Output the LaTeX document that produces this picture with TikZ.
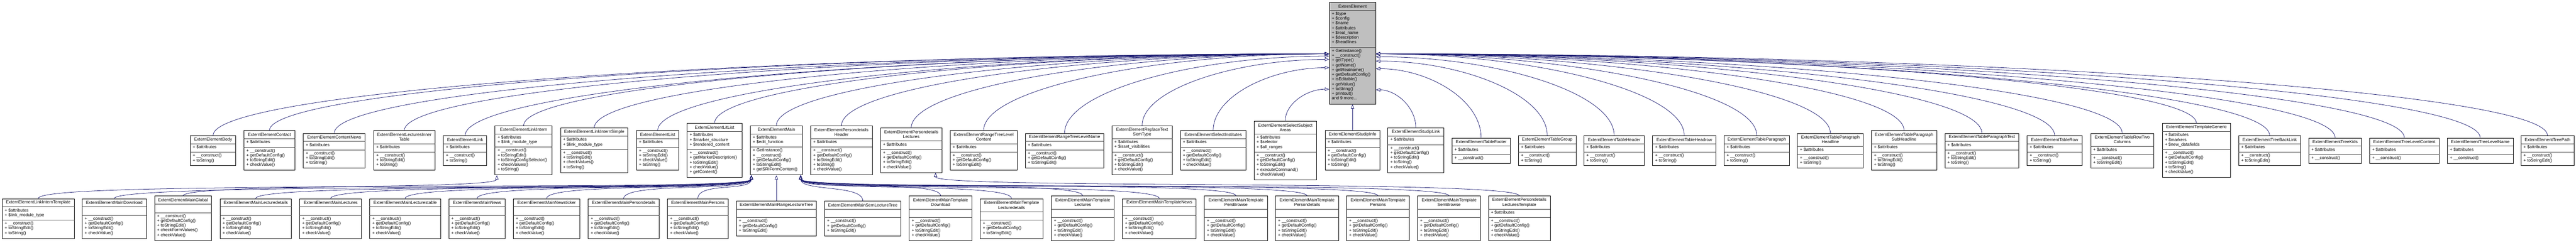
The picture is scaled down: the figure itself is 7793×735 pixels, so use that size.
\documentclass[tikz,border=0pt]{standalone}
\usepackage{fontspec}
\setmainfont{Liberation Sans}
\usetikzlibrary{arrows.meta,calc}
\definecolor{edge}{HTML}{191970}
\def\curfill{white}
\tikzset{
  cls/.style={draw=black,line width=1.3pt,fill=\curfill,inner sep=0pt},
  div/.style={line width=1.5pt,draw=black!75},
  ttl/.style={align=center,inner sep=0pt,font=\fontsize{13}{14.4}\selectfont},
  lst/.style={align=left,inner sep=0pt,anchor=north west,font=\fontsize{13}{14.4}\selectfont},
  inh/.style={draw=edge,line width=1.2pt,-{Triangle[open,length=13pt,width=10pt]}},
}
\newcommand\cls[9]{%
  \pgfmathsetmacro\tH{11+14.5*#4}%
  \pgfmathsetmacro\aH{11+14.5*max(#5,1)}%
  \pgfmathsetmacro\mH{11+14.5*#6}%
  \pgfmathsetmacro\hH{\tH+\aH+\mH}%
  \pgfmathsetmacro\tHh{\tH/2}%
  \pgfmathsetmacro\aY{\tH+4.5}%
  \pgfmathsetmacro\dY{\tH+\aH}%
  \pgfmathsetmacro\mY{\tH+\aH+4.5}%
  \node[cls,minimum width=#3pt,minimum height=\hH pt,anchor=north west] (#1) at (#2) {};
  \draw[div] ([yshift=-\tH pt]#1.north west) -- ([yshift=-\tH pt]#1.north east);
  \draw[div] ([yshift=-\dY pt]#1.north west) -- ([yshift=-\dY pt]#1.north east);
  \node[ttl] (#1-t) at ([yshift=-\tHh pt]#1.north) {#7};
  \node[lst] (#1-a) at ([xshift=8pt,yshift=-\aY pt]#1.north west) {#8};
  \node[lst] (#1-m) at ([xshift=8pt,yshift=-\mY pt]#1.north west) {#9};
}
\newcommand\inh[2]{\draw[inh] let \p1=(#1), \p2=(#2) in (\p1) .. controls (\x1,{0.45*\y1+0.55*\y2}) and ({0.5*\x1+0.5*\x2},\y2) .. (\p2);}
\newcommand\inhu[2]{\draw[inh] let \p1=(#1), \p2=(#2) in (\p1) .. controls (\x1,\y1+50pt) and (\x2,\y2-50pt) .. (\p2);}
\def\C{+ \_\_construct()}
\def\A{+ \$attributes}
\def\G{+ getDefaultConfig()}
\def\E{+ toStringEdit()}
\def\S{+ toString()}
\def\V{+ checkValue()}
\begin{document}
\begin{tikzpicture}[x=1pt,y=-1pt]
\useasboundingbox (0,0) rectangle (7793,735);
% top
\def\curfill{black!25}
\cls{EE}{4021,6}{140}{1}{7}{11}{ExternElement}{+ \$type\\+ \$config\\+ \$name\\+ \$attributes\\+ \$real\_name\\+ \$description\\+ \$headlines}{+ GetInstance()\\\C\\+ getType()\\+ getName()\\+ getRealname()\\\G\\+ isEditable()\\+ getValue()\\\S\\+ printout()\\and 9 more...}
\def\curfill{white}
% row 2
\cls{Body}{575,410}{138}{1}{1}{2}{ExternElementBody}{\A}{\C\\\S}
\cls{Contact}{737,395}{155}{1}{1}{4}{ExternElementContact}{\A}{\C\\\G\\\E\\\V}
\cls{ContentNews}{917,403}{187}{1}{1}{3}{ExternElementContentNews}{\A}{\C\\\E\\\S}
\cls{LIT}{1130,395}{185}{2}{1}{3}{ExternElementLecturesInner\\Table}{\A}{\C\\\E\\\S}
\cls{Link}{1341,410}{131}{1}{1}{2}{ExternElementLink}{\A}{\C\\\S}
\cls{LinkIntern}{1497,380}{173}{1}{2}{5}{ExternElementLinkIntern}{\A\\+ \$link\_module\_type}{\C\\\E\\+ toStringConfigSelector()\\+ checkValues()\\\S}
\cls{LinkInternSimple}{1695,387}{204}{1}{2}{4}{ExternElementLinkInternSimple}{\A\\+ \$link\_module\_type}{\C\\\E\\+ checkValues()\\\S}
\cls{List}{1925,395}{128}{1}{1}{4}{ExternElementList}{\A}{\C\\\E\\\V\\\S}
\cls{LitList}{2078,373}{166}{1}{3}{5}{ExternElementLitList}{\A\\+ \$marker\_structure\\+ \$rendered\_content}{\C\\+ getMarkerDescription()\\\E\\\V\\+ getContent()}
\cls{Main}{2269,380}{158}{1}{2}{5}{ExternElementMain}{\A\\+ \$edit\_function}{+ GetInstance()\\\C\\\G\\\E\\+ getSRIFormContent()}
\cls{PDH}{2452,380}{186}{2}{1}{5}{ExternElementPersondetails\\Header}{\A}{\C\\\G\\\E\\\S\\\V}
\cls{PDL}{2663,387}{186}{2}{1}{4}{ExternElementPersondetails\\Lectures}{\A}{\C\\\G\\\E\\\V}
\cls{RTLC}{2874,395}{202}{2}{1}{3}{ExternElementRangeTreeLevel\\Content}{\A}{\C\\\G\\\E}
\cls{RTLN}{3101,403}{238}{1}{1}{3}{ExternElementRangeTreeLevelName}{\A}{\C\\\G\\\E}
\cls{RTST}{3363,380}{183}{2}{2}{4}{ExternElementReplaceText\\SemType}{\A\\+ \$isset\_visibilities}{\C\\\G\\\E\\\V}
\cls{SI}{3570,395}{199}{1}{1}{4}{ExternElementSelectInstitutes}{\A}{\C\\\G\\\E\\\V}
\cls{SSA}{3793,366}{189}{2}{3}{5}{ExternElementSelectSubject\\Areas}{\A\\+ \$selector\\+ \$all\_ranges}{\C\\\G\\\E\\+ executeCommand()\\\V}
\cls{StudipInfo}{4008,395}{166}{1}{1}{4}{ExternElementStudipInfo}{\A}{\C\\\G\\\E\\\S}
\cls{StudipLink}{4198,387}{169}{1}{1}{5}{ExternElementStudipLink}{\A}{\C\\\G\\\E\\\S\\\V}
\cls{TFooter}{4392,417}{176}{1}{1}{1}{ExternElementTableFooter}{\A}{\C}
\cls{TGroup}{4593,410}{174}{1}{1}{2}{ExternElementTableGroup}{\A}{\C\\\S}
\cls{THeader}{4791,410}{183}{1}{1}{2}{ExternElementTableHeader}{\A}{\C\\\S}
\cls{THeadrow}{4999,410}{191}{1}{1}{2}{ExternElementTableHeadrow}{\A}{\C\\\S}
\cls{TPara}{5215,410}{198}{1}{1}{2}{ExternElementTableParagraph}{\A}{\C\\\S}
\cls{TPH}{5437,403}{199}{2}{1}{2}{ExternElementTableParagraph\\Headline}{\A}{\C\\\S}
\cls{TPSH}{5661,395}{197}{2}{1}{3}{ExternElementTableParagraph\\SubHeadline}{\A}{\C\\\E\\\S}
\cls{TPT}{5883,403}{224}{1}{1}{3}{ExternElementTableParagraphText}{\A}{\C\\\E\\\S}
\cls{TRow}{6132,410}{166}{1}{1}{2}{ExternElementTableRow}{\A}{\C\\\S}
\cls{TRTC}{6324,403}{191}{2}{1}{2}{ExternElementTableRowTwo\\Columns}{\A}{\C\\\E}
\cls{TG}{6541,373}{206}{1}{3}{5}{ExternElementTemplateGeneric}{\A\\+ \$markers\\+ \$new\_datafields}{\C\\\G\\\E\\\S\\\V}
\cls{TBL}{6772,410}{187}{1}{1}{2}{ExternElementTreeBackLink}{\A}{\C\\\E}
\cls{TK}{6984,417}{159}{1}{1}{1}{ExternElementTreeKids}{\A}{\C}
\cls{TLC}{7168,417}{210}{1}{1}{1}{ExternElementTreeLevelContent}{\A}{\C}
\cls{TLN}{7403,417}{199}{1}{1}{1}{ExternElementTreeLevelName}{\A}{\C}
\cls{TP}{7626,410}{160}{1}{1}{2}{ExternElementTreePath}{\A}{\C\\\E}
% row 3
\cls{LIT3}{6,601}{218}{1}{2}{3}{ExternElementLinkInternTemplate}{\A\\+ \$link\_module\_type}{\C\\\E\\\S}
\cls{MDown}{248,601}{194}{1}{0}{4}{ExternElementMainDownload}{}{\C\\\G\\\E\\\V}
\cls{MGlob}{467,593}{172}{1}{0}{5}{ExternElementMainGlobal}{}{\C\\\G\\\E\\+ checkFormValues()\\\V}
\cls{MLd}{665,601}{216}{1}{0}{4}{ExternElementMainLecturedetails}{}{\C\\\G\\\E\\\V}
\cls{ML}{906,601}{187}{1}{0}{4}{ExternElementMainLectures}{}{\C\\\G\\\E\\\V}
\cls{MLt}{1118,601}{214}{1}{0}{4}{ExternElementMainLecturestable}{}{\C\\\G\\\E\\\V}
\cls{MN}{1357,601}{171}{1}{0}{4}{ExternElementMainNews}{}{\C\\\G\\\E\\\V}
\cls{MNt}{1552,601}{202}{1}{0}{4}{ExternElementMainNewsticker}{}{\C\\\G\\\E\\\V}
\cls{MPd}{1779,601}{214}{1}{0}{4}{ExternElementMainPersondetails}{}{\C\\\G\\\E\\\V}
\cls{MP}{2019,601}{183}{1}{0}{4}{ExternElementMainPersons}{}{\C\\\G\\\E\\\V}
\cls{MRLT}{2227,608}{242}{1}{0}{3}{ExternElementMainRangeLectureTree}{}{\C\\\G\\\E}
\cls{MSLT}{2494,608}{231}{1}{0}{3}{ExternElementMainSemLectureTree}{}{\C\\\G\\\E}
\cls{MTD}{2750,593}{190}{2}{0}{4}{ExternElementMainTemplate\\Download}{}{\C\\\G\\\E\\\V}
\cls{MTLd}{2965,601}{189}{2}{0}{3}{ExternElementMainTemplate\\Lecturedetails}{}{\C\\\G\\\E}
\cls{MTL}{3180,593}{190}{2}{0}{4}{ExternElementMainTemplate\\Lectures}{}{\C\\\G\\\E\\\V}
\cls{MTN}{3395,601}{223}{1}{0}{4}{ExternElementMainTemplateNews}{}{\C\\\G\\\E\\\V}
\cls{MTPB}{3643,593}{191}{2}{0}{4}{ExternElementMainTemplate\\PersBrowse}{}{\C\\\G\\\E\\\V}
\cls{MTPd}{3858,593}{191}{2}{0}{4}{ExternElementMainTemplate\\Persondetails}{}{\C\\\G\\\E\\\V}
\cls{MTP}{4073,593}{190}{2}{0}{4}{ExternElementMainTemplate\\Persons}{}{\C\\\G\\\E\\\V}
\cls{MTSB}{4288,593}{190}{2}{0}{4}{ExternElementMainTemplate\\SemBrowse}{}{\C\\\G\\\E\\\V}
\cls{PDLT}{4502,593}{187}{2}{1}{4}{ExternElementPersondetails\\LecturesTemplate}{\A}{\C\\\G\\\E\\\V}
% targets
\coordinate (L1) at ([yshift=-157pt]EE.north west);
\coordinate (L2) at ([yshift=-164pt]EE.north west);
\coordinate (L3) at ([yshift=-174pt]EE.north west);
\coordinate (L4) at ([yshift=-199pt]EE.north west);
\coordinate (L5) at ([yshift=-264pt]EE.north west);
\coordinate (R1) at ([yshift=-157pt]EE.north east);
\coordinate (R2) at ([yshift=-166pt]EE.north east);
\coordinate (R3) at ([yshift=-179pt]EE.north east);
\coordinate (R4) at ([yshift=-202pt]EE.north east);
\coordinate (R5) at ([yshift=-266pt]EE.north east);
\coordinate (MW) at ([xshift=4pt]Main.south west);
\coordinate (ME) at ([xshift=-6pt]Main.south east);
\coordinate (LIs) at ([xshift=6pt]LinkIntern.south west);
\coordinate (PDLs) at ([xshift=-20pt]PDL.south east);
% row2 edges
\foreach \k in {Body,Contact,ContentNews,LIT,Link,LinkIntern,LinkInternSimple,List,LitList,Main,PDH,PDL,RTLC}{\inh{\k.north}{L1}}
\inh{RTLN.north}{L2}
\inh{RTST.north}{L3}
\inh{SI.north}{L4}
\inh{SSA.north}{L5}
\draw[inh] (StudipInfo.north) -- (EE.south);
\inh{StudipLink.north}{R5}
\inh{TFooter.north}{R4}
\inh{TGroup.north}{R3}
\inh{THeader.north}{R2}
\foreach \k in {THeadrow,TPara,TPH,TPSH,TPT,TRow,TRTC,TG,TBL,TK,TLC,TLN,TP}{\inh{\k.north}{R1}}
% row3 edges
\inhu{LIT3.north}{LIs}
\foreach \k in {MDown,MGlob,MLd,ML,MLt,MN,MNt,MPd,MP}{\inhu{\k.north}{MW}}
\draw[inh] (MRLT.north) -- (Main.south);
\foreach \k in {MSLT,MTD,MTLd,MTL,MTN,MTPB,MTPd,MTP,MTSB}{\inhu{\k.north}{ME}}
\inhu{PDLT.north}{PDLs}
\end{tikzpicture}
\end{document}
